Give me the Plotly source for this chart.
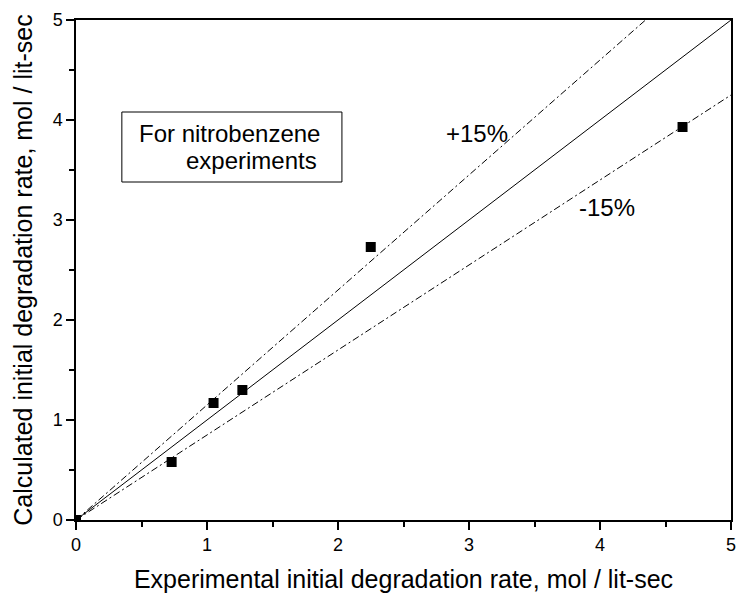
import plotly.graph_objects as go

exp_rate = [0.0, 0.73, 1.05, 1.27, 2.25, 4.63]
calc_rate = [0.0, 0.58, 1.17, 1.30, 2.73, 3.93]
line_x = [0, 5]
ideal_y = [0, 5]
plus15_x = [0, 5 / 1.15]
plus15_y = [0, 5]
minus15_y = [0, 4.25]
ticks = [0, 1, 2, 3, 4, 5]

font = "Arial, Liberation Sans, sans-serif"
fig = go.Figure()
fig.add_trace(go.Scatter(x=line_x, y=ideal_y, mode="lines",
                         line=dict(color="black", width=1), showlegend=False))
fig.add_trace(go.Scatter(x=plus15_x, y=plus15_y, mode="lines",
                         line=dict(color="black", width=1, dash="7px,3px,2px,3px"), showlegend=False))
fig.add_trace(go.Scatter(x=line_x, y=minus15_y, mode="lines",
                         line=dict(color="black", width=1, dash="7px,3px,2px,3px"), showlegend=False))
fig.add_trace(go.Scatter(x=exp_rate, y=calc_rate, mode="markers",
                         marker=dict(symbol="square", size=10, color="black"), showlegend=False))

axis_common = dict(range=[0, 5], tickvals=ticks, ticks="outside", ticklen=8, tickwidth=1.5,
                   tickcolor="black", showline=True, linecolor="black", linewidth=1.5,
                   mirror=True, showgrid=False, zeroline=False, ticklabeloverflow="allow",
                   tickfont=dict(family=font, size=18, color="black"),
                   minor=dict(ticks="outside", ticklen=5, tickwidth=1.5, tickcolor="black", dtick=0.5))

tfont = dict(family=font, size=24, color="black")
fig.update_layout(
    width=739, height=593,
    margin=dict(l=76, r=3, t=20, b=73),
    plot_bgcolor="white", paper_bgcolor="white",
    xaxis=dict(axis_common, title=dict(text="Experimental initial degradation rate, mol / lit-sec",
                                        font=dict(family=font, size=25, color="black"), standoff=16)),
    yaxis=dict(axis_common, title=dict(text="Calculated initial degradation rate, mol / lit-sec",
                                        font=dict(family=font, size=25, color="black"), standoff=13)),
    shapes=[dict(type="rect", xref="x", yref="y", x0=0.35, x1=2.03, y0=3.38, y1=4.08,
                 line=dict(color="black", width=1), fillcolor="white", layer="above")],
    annotations=[
        dict(x=0.463, y=3.87, xref="x", yref="y", text="For nitrobenzene", xanchor="left",
             showarrow=False, font=tfont),
        dict(x=0.827, y=3.60, xref="x", yref="y", text="experiments", xanchor="left",
             showarrow=False, font=tfont),
        dict(x=3.06, y=3.87, xref="x", yref="y", text="+15%", showarrow=False, font=tfont),
        dict(x=4.05, y=3.13, xref="x", yref="y", text="-15%", showarrow=False, font=tfont),
    ],
)
fig.write_html("out.html")
